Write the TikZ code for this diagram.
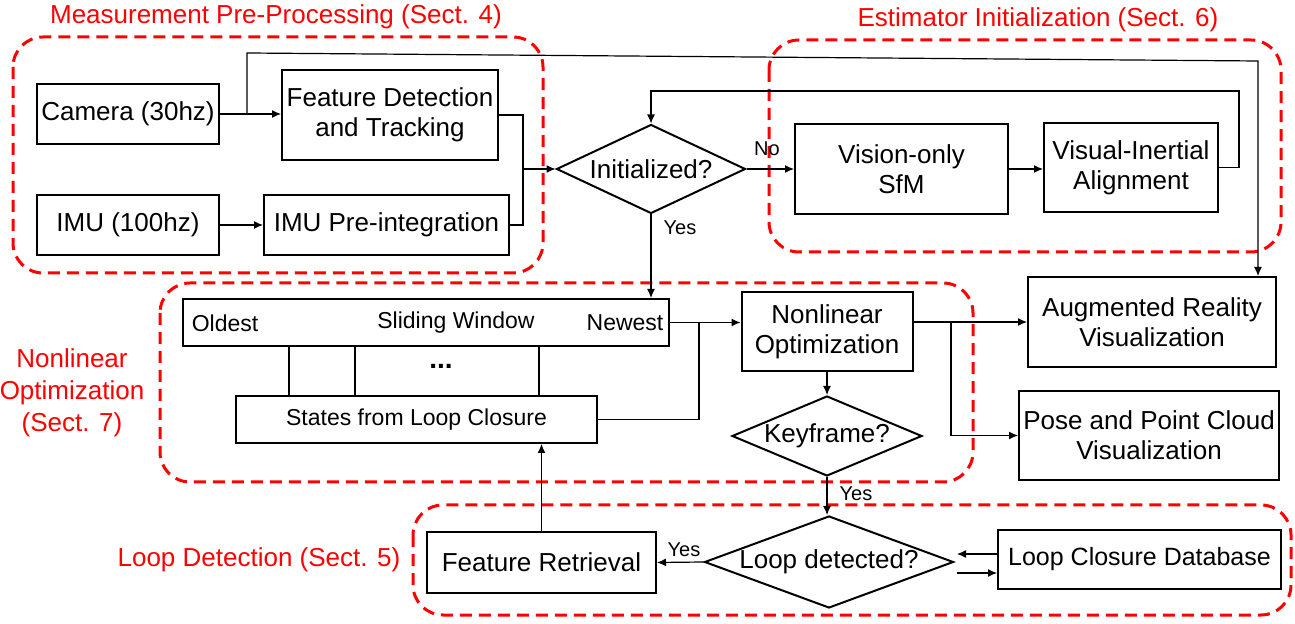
\documentclass[tikz,border=0pt]{standalone}
\usepackage{fontspec}
\setmainfont{Liberation Sans}
\usetikzlibrary{shapes.geometric,arrows.meta}
\begin{document}
\begin{tikzpicture}[x=0.5pt,y=-0.5pt,
  blk/.style={draw,line width=1pt,inner sep=0pt,align=center,font=\fontsize{13}{15}\selectfont},
  dia/.style={blk,shape=diamond,aspect=2.4},
  region/.style={draw=red,line width=1.5pt,dash pattern=on 6pt off 3.5pt,rounded corners=15pt},
  lbl/.style={text=red,font=\fontsize{13}{16}\selectfont,align=center},
  con/.style={line width=0.6pt},
  arr/.style={con,-{Latex[length=4.5pt,width=4pt]}},
  small/.style={font=\fontsize{11.5}{13}\selectfont},
  yn/.style={font=\fontsize{10}{12}\selectfont}]
\useasboundingbox (0,0) rectangle (1295,624);

% regions
\draw[region] (13,37) rectangle (543,273);
\draw[region] (769,40) rectangle (1281,252);
\draw[region] (160,283) rectangle (973,482);
\draw[region] (413,505) rectangle (1291,615);

\node[lbl] (t1) at (276,17) {Measurement Pre-Processing (Sect. 4)};
\node[lbl] (t2) at (1038,20) {Estimator Initialization (Sect. 6)};
\node[lbl] (t3) at (72,393) {Nonlinear\\Optimization\\(Sect. 7)};
\node[lbl] (t4) at (259,560) {Loop Detection (Sect. 5)};

% nodes
\node[blk,minimum width=91pt,minimum height=30pt] (cam) at (128,114) {Camera (30hz)};
\node[blk,minimum width=108pt,minimum height=45pt] (feat) at (390,115) {Feature Detection\\and Tracking};
\node[blk,minimum width=91pt,minimum height=30pt] (imu) at (128,225) {IMU (100hz)};
\node[blk,minimum width=122.5pt,minimum height=30pt] (pre) at (386.5,225) {IMU Pre-integration};
\node[dia,minimum width=94.5pt,minimum height=44.5pt] (init) at (651,169) {Initialized?};
\node[blk,minimum width=106.5pt,minimum height=45pt] (vis) at (901.5,169) {Vision-only\\SfM};
\node[blk,minimum width=87pt,minimum height=44.5pt] (via) at (1131,167.5) {Visual-Inertial\\Alignment};
\node[blk,minimum width=124pt,minimum height=45pt] (ar) at (1152,322) {Augmented Reality\\Visualization};
\node[blk,minimum width=130pt,minimum height=44.5pt] (pose) at (1149,435.5) {Pose and Point Cloud\\Visualization};
\node[blk,minimum width=243pt,minimum height=23.5pt] (sw) at (426,322.5) {};
\node[small] (old) at (225,323) {Oldest};
\node[small] (swl) at (456,323) {Sliding Window};
\node[small] (new) at (625,323) {Newest};
\node[blk,small,minimum width=180.5pt,minimum height=23.5pt] (states) at (416.5,419.5) {States from Loop Closure};
\node[font=\fontsize{14}{14}\selectfont\bfseries] (dots) at (441,366) {...};
\node[blk,minimum width=85.5pt,minimum height=39.5pt] (nlo) at (827,331.5) {Nonlinear\\Optimization};
\node[dia,minimum width=95pt,minimum height=40pt] (key) at (827,436) {Keyframe?};
\node[dia,minimum width=124.5pt,minimum height=46pt,aspect=2.7] (loop) at (829,562) {Loop detected?};
\node[blk,minimum width=114.5pt,minimum height=30.5pt] (fr) at (541.5,562.5) {Feature Retrieval};
\node[blk,minimum width=141.5pt,minimum height=29.5pt,font=\fontsize{12.5}{15}\selectfont] (lcd) at (1139.5,559.5) {Loop Closure Database};

% connectors
\coordinate (c1) at (247,0);
\coordinate (top1) at (247,53);
\coordinate (top2) at (1258,61);
\draw[arr] (cam.east) -- (feat.west |- cam.east);
\draw[arr] (c1 |- cam.east) -- (top1) -- (top2) -- (top2 |- ar.north);
\draw[arr] (imu.east) -- (pre.west);
\coordinate (j1) at (523,169);
\draw[con] (feat.east) -| (j1);
\draw[con] (pre.east) -| (j1);
\draw[arr] (j1) -- (init.west);
\draw[arr] (init.east) -- (vis.west);
\node[yn] (no) at (767,149) {No};
\draw[arr] (vis.east) -- (via.west |- vis.east);
\coordinate (r1) at (1239,91);
\draw[arr] (via.east) -| (r1) -| (init.north);
\draw[arr] (init.south) -- (init.south |- sw.north);
\node[yn] (yes1) at (680,228) {Yes};
\draw[arr] (sw.east) -- (nlo.west |- sw.east);
\coordinate (j2) at (699,0);
\draw[con] (states.east) -| (j2 |- sw.east);
\coordinate (v1) at (289,0);
\coordinate (v2) at (355,0);
\coordinate (v3) at (539,0);
\draw[con] (v1 |- sw.south) -- (v1 |- states.north);
\draw[con] (v2 |- sw.south) -- (v2 |- states.north);
\draw[con] (v3 |- sw.south) -- (v3 |- states.north);
\draw[arr] (nlo.south) -- (key.north);
\draw[arr] (nlo.east |- ar.west) -- (ar.west);
\coordinate (j3) at (951,0);
\draw[arr] (j3 |- ar.west) |- (pose.west);
\draw[arr] (key.south) -- (key.south |- loop.north);
\node[yn] (yes2) at (856,494) {Yes};
\draw[arr] (loop.west) -- (fr.east);
\node[yn] (yes3) at (684,550) {Yes};
\draw[arr] (fr.north) -- (fr.north |- states.south);
\coordinate (l1) at (957,554);
\coordinate (l2) at (957,573);
\draw[arr] (lcd.west |- l1) -- (l1);
\draw[arr] (l2) -- (lcd.west |- l2);
\end{tikzpicture}
\end{document}
